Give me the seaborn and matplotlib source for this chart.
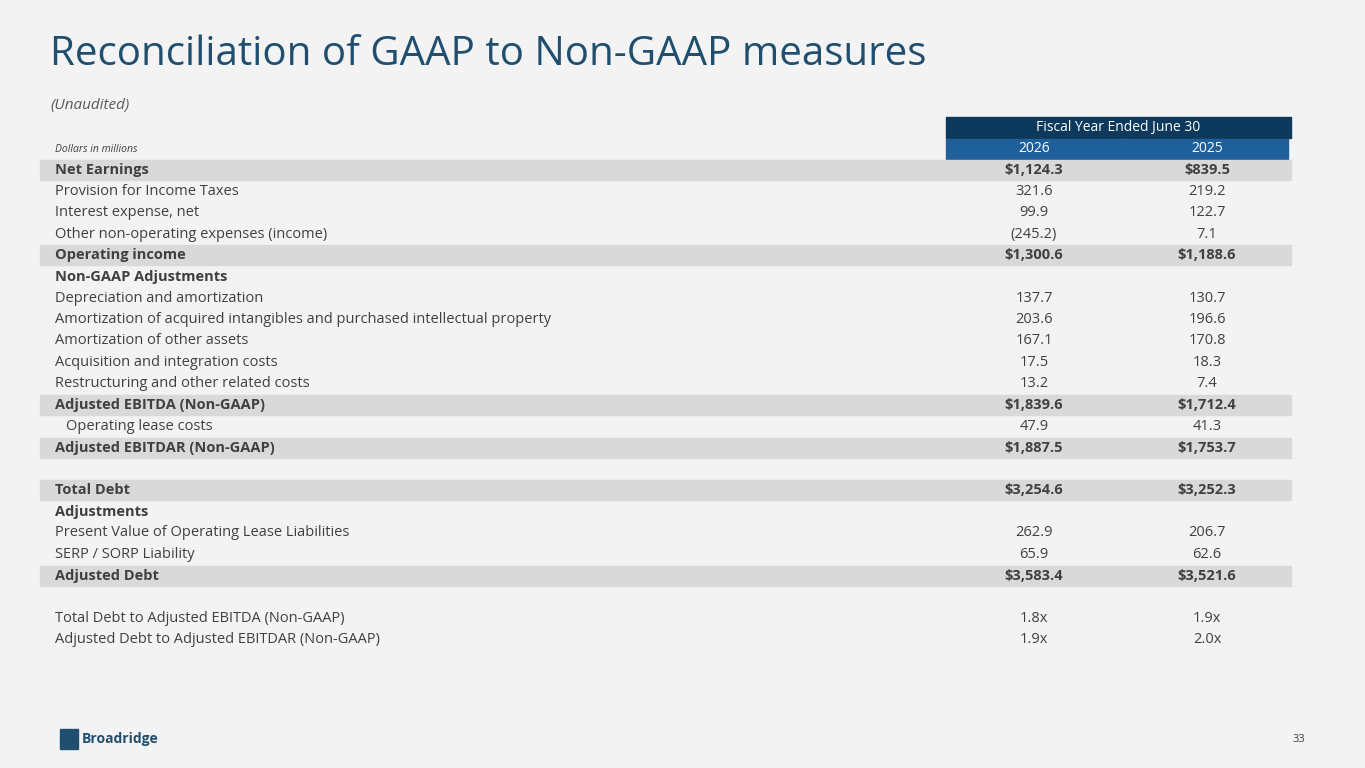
import matplotlib
matplotlib.use("Agg")
import matplotlib.pyplot as plt
import seaborn as sns

sns.set_theme(style="white")
plt.rcParams['font.family'] = ['Open Sans', 'DejaVu Sans']

labels = ["Net Earnings", "Provision for Income Taxes", "Interest expense, net",
          "Other non-operating expenses (income)", "Operating income",
          "Non-GAAP Adjustments", "Depreciation and amortization",
          "Amortization of acquired intangibles and purchased intellectual property",
          "Amortization of other assets", "Acquisition and integration costs",
          "Restructuring and other related costs", "Adjusted EBITDA (Non-GAAP)",
          "Operating lease costs", "Adjusted EBITDAR (Non-GAAP)", "",
          "Total Debt", "Adjustments", "Present Value of Operating Lease Liabilities",
          "SERP / SORP Liability", "Adjusted Debt", "",
          "Total Debt to Adjusted EBITDA (Non-GAAP)",
          "Adjusted Debt to Adjusted EBITDAR (Non-GAAP)"]
fy2026 = ["$1,124.3", "321.6", "99.9", "(245.2)", "$1,300.6", "", "137.7", "203.6",
          "167.1", "17.5", "13.2", "$1,839.6", "47.9", "$1,887.5", "", "$3,254.6", "",
          "262.9", "65.9", "$3,583.4", "", "1.8x", "1.9x"]
fy2025 = ["$839.5", "219.2", "122.7", "7.1", "$1,188.6", "", "130.7", "196.6",
          "170.8", "18.3", "7.4", "$1,712.4", "41.3", "$1,753.7", "", "$3,252.3", "",
          "206.7", "62.6", "$3,521.6", "", "1.9x", "2.0x"]
shaded = [0, 4, 11, 13, 15, 19]
bold = [0, 4, 5, 11, 13, 15, 16, 19]
indented = [12]
years = ["2026", "2025"]

bg = "#f3f3f3"
txt = "#404040"
fig = plt.figure(figsize=(13.65, 7.68), dpi=100, facecolor=bg)
ax = fig.add_axes([0, 0, 1, 1])
ax.set_xlim(0, 1365)
ax.set_ylim(768, 0)
ax.axis("off")
ax.set_facecolor(bg)

fig.text(50 / 1365, 1 - 55 / 768, "Reconciliation of GAAP to Non-GAAP measures",
         fontsize=29, color="#1f4e6e", va="center")
ax.text(50, 105, "(Unaudited)", fontsize=11, style="italic", color="#595959", va="center")
ax.text(55, 149, "Dollars in millions", fontsize=7.5, style="italic", color=txt, va="center")

# header
ax.add_patch(plt.Rectangle((946, 117), 345, 21, color="#0d3a5c"))
ax.text(1118, 127.5, "Fiscal Year Ended June 30", color="white", fontsize=10,
        ha="center", va="center")
cols = [1034, 1207]
for i, yr in enumerate(years):
    ax.add_patch(plt.Rectangle((cols[i] - 88 + i, 139), 176 - i * 9 + 1, 20, color="#1f5f9a"))
    ax.text(cols[i], 149, yr, color="white", fontsize=10, ha="center", va="center")

y0, dy = 170, 21.35
for i, lab in enumerate(labels):
    y = y0 + i * dy
    if i in shaded:
        ax.add_patch(plt.Rectangle((40, y - 10), 1251, 20, color="#d9d9d9"))
    w = "bold" if i in bold else "normal"
    x = 66 if i in indented else 55
    ax.text(x, y, lab, fontsize=10.5, color=txt, fontweight=w, va="center")
    ax.text(cols[0], y, fy2026[i], fontsize=10.5, color=txt, fontweight=w,
            ha="center", va="center")
    ax.text(cols[1], y, fy2025[i], fontsize=10.5, color=txt, fontweight=w,
            ha="center", va="center")

ax.text(1305, 739, "33", fontsize=8, color=txt, ha="right", va="center")
ax.text(82, 739, "Broadridge", fontsize=10, color="#1f4e6e", fontweight="bold", va="center")
ax.add_patch(plt.Rectangle((60, 729), 18, 20, color="#1f4e6e"))

fig.savefig("out.png", dpi=100, facecolor=bg)
